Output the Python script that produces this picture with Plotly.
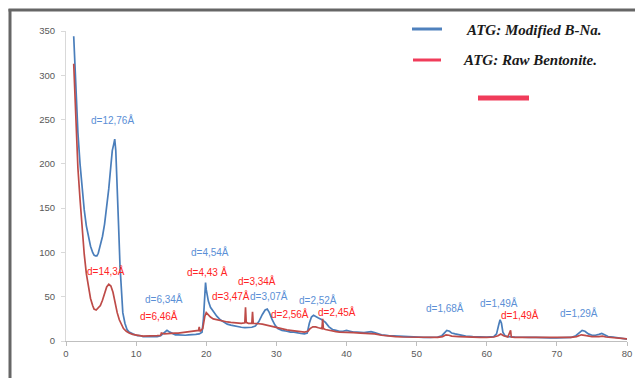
import plotly.graph_objects as go

# ---- data (2-theta, intensity) ----
blue_x = [1.1,1.3,1.5,1.7,2.0,2.3,2.6,2.9,3.2,3.5,3.8,4.0,4.2,4.4,4.6,4.9,5.2,5.5,5.8,6.1,6.4,6.6,6.8,6.95,7.1,7.3,7.5,7.7,7.9,8.1,8.4,8.7,9.0,9.4,9.8,10.2,10.6,11.0,11.5,12.0,12.5,13.0,13.5,14.0,14.4,14.8,15.2,15.6,16.0,16.5,17.0,17.5,18.0,18.5,19.0,19.4,19.6,19.8,19.9,20.0,20.3,20.6,21.0,21.5,22.0,22.5,23.0,23.5,24.0,24.5,25.0,25.5,26.0,26.5,27.0,27.5,28.0,28.4,28.7,29.0,29.4,29.8,30.2,30.8,31.5,32.0,32.5,33.0,33.5,34.0,34.4,34.7,35.0,35.3,35.6,36.0,36.5,37.0,37.5,38.0,38.5,39.0,39.5,40.0,40.5,41.0,41.5,42.0,42.5,43.0,43.5,44.0,44.5,45.0,46.0,47.0,48.0,49.0,50.0,51.0,52.0,53.0,53.6,54.0,54.3,54.7,55.0,55.5,56.0,56.5,57.0,58.0,59.0,60.0,61.0,61.4,61.7,61.9,62.1,62.3,62.6,63.0,64.0,65.0,66.0,67.0,68.0,69.0,70.0,71.0,72.0,72.7,73.2,73.6,74.0,74.5,75.0,75.5,76.0,76.4,76.8,77.3,78.0,79.0,80.0]
blue_y = [344,300,262,235,200,170,148,130,117,107,100,97,96,96,99,107,118,132,150,172,198,215,222,228,215,180,130,85,52,32,20,13,10,8,7,6,6,5,5,4.5,5,5,6,10,12,10,8,7,7,6.5,6.5,7,7,7.5,8,10,25,55,66,58,45,38,33,28,24,21,19,18,17,16,15.5,15,15,15.5,17,22,30,35,36,32,24,18,14,12,11,10,10,9,8.5,8,9,20,27,29,28,26,24,21,16,13,12,11,11,12,11,10,10,9.5,9.5,10,10.5,9.5,8,7,6,5.5,5,4.5,4.5,4,4,4.5,6,10,12,11,9,8,7,6,5.5,5,4.5,4.5,5,8,18,24,20,10,6,5,4.5,4,4,4,3.5,3.5,3.5,3.5,4,6,10,12,11,8,6.5,6.5,7.5,8.5,7,5,4.5,3,2]

red_x = [1.1,1.3,1.5,1.7,2.0,2.3,2.6,2.9,3.2,3.5,3.8,4.0,4.3,4.6,4.9,5.2,5.5,5.8,6.1,6.4,6.7,7.0,7.3,7.6,7.9,8.2,8.6,9.0,9.5,10.0,10.5,11.0,11.5,12.0,12.5,13.0,13.5,13.6,14.0,14.5,15.0,15.5,16.0,16.5,17.0,17.5,18.0,18.5,18.9,19.0,19.1,19.5,19.8,20.0,20.3,20.6,21.0,21.5,22.0,22.5,23.0,23.5,24.0,24.5,25.0,25.5,25.6,25.7,26.0,26.5,26.6,26.7,27.0,27.5,28.0,28.5,29.0,29.5,30.0,30.5,31.0,31.5,32.0,32.5,33.0,33.5,34.0,34.5,34.8,35.2,35.6,36.0,36.5,36.6,36.7,37.0,37.5,38.0,38.5,39.0,40.0,41.0,42.0,43.0,44.0,45.0,46.0,47.0,48.0,49.0,50.0,51.0,52.0,53.0,53.7,54.2,54.6,55.0,56.0,57.0,58.0,59.0,60.0,61.0,61.6,62.0,62.4,63.0,63.4,63.5,64.0,65.0,66.0,67.0,68.0,69.0,70.0,71.0,72.0,72.8,73.5,74.2,75.0,76.0,76.5,77.0,78.0,79.0,80.0]
red_y = [313,270,228,195,160,125,98,76,60,48,40,36,35,37,40,46,54,61,64,62,55,43,32,24,18,14,11,9,7.5,6.5,6,5.5,5.5,5.5,6,6,6.5,9,8,8.5,8.5,9,9,9.5,10,10,10.5,11,12,16,11,14,28,32,29,27,25,24,23,22,21.5,21,20.5,20,20,20.5,38,21,20,20,33,20,20,19.5,19,18,17,16,15,14,13,12.5,12,11.5,11,10.5,10,11,14,16,16,15,14,25,14,13,12,11,10.5,10,10,9.5,9,8.5,8,6.5,5.5,5,4.5,4.5,4,4,4,4,5,7,6.5,5.5,5,4.5,4.5,4,4,4.5,6,8,6,4.5,12,4.5,4,4,4,4,3.5,3.5,3.5,3.5,4,5,7,6,5,5,5.5,4.5,4,3,2.5]

x_ticks = [0, 10, 20, 30, 40, 50, 60, 70, 80]
y_ticks = [0, 50, 100, 150, 200, 250, 300, 350]

legend_names = ["ATG: Modified B-Na.", "ATG: Raw Bentonite."]

blue_labels = [("d=12,76Å", 6.6, 249), ("d=6,34Å", 13.95, 47.4), ("d=4,54Å", 20.5, 100.8),
               ("d=3,07Å", 29.0, 50.8), ("d=2,52Å", 35.9, 46.3), ("d=1,68Å", 54.1, 37.6),
               ("d=1,49Å", 61.8, 42.5), ("d=1,29Å", 73.1, 31.3)]
red_labels = [("d=14,3Å", 5.7, 79), ("d=6,46Å", 13.2, 28), ("d=4,43 Å", 20.2, 78),
              ("d=3,47Å", 23.5, 50.8), ("d=3,34Å", 27.2, 67.7), ("d=2,56Å", 31.9, 30.5),
              ("d=2,45Å", 38.7, 33), ("d=1,49Å", 64.7, 29.3)]

BLUE = "#4a7ebb"
RED = "#be4b48"
BLUE_TXT = "#5b8fd6"
RED_TXT = "#ff2424"

# pixel -> paper helpers (plot area: x 66..626, y 31..341)
L, R, T, B = 66, 627, 31, 341
def px(p):
    return (p - L) / (R - L)
def py(p):
    return (B - p) / (B - T)

fig = go.Figure()
fig.add_trace(go.Scatter(x=blue_x, y=blue_y, mode="lines", name=legend_names[0],
                         line=dict(color=BLUE, width=1.7), showlegend=False))
fig.add_trace(go.Scatter(x=red_x, y=red_y, mode="lines", name=legend_names[1],
                         line=dict(color=RED, width=1.7), showlegend=False))

annotations = []
for txt, x, y in blue_labels:
    annotations.append(dict(x=x, y=y, xref="x", yref="y", text=txt, showarrow=False,
                            font=dict(family="Liberation Sans, Arial", size=10, color=BLUE_TXT)))
for txt, x, y in red_labels:
    annotations.append(dict(x=x, y=y, xref="x", yref="y", text=txt, showarrow=False,
                            font=dict(family="Liberation Sans, Arial", size=10, color=RED_TXT)))

# legend texts
annotations.append(dict(x=px(464), y=py(30), xref="paper", yref="paper", xanchor="left", yanchor="middle",
                        text="<b><i>" + legend_names[0] + "</i></b>", showarrow=False,
                        font=dict(family="Liberation Serif, Times New Roman", size=15, color="#1a1a1a")))
annotations.append(dict(x=px(461), y=py(60), xref="paper", yref="paper", xanchor="left", yanchor="middle",
                        text="<b><i>" + legend_names[1] + "</i></b>", showarrow=False,
                        font=dict(family="Liberation Serif, Times New Roman", size=15, color="#1a1a1a")))

shapes = [
    # legend markers
    dict(type="line", xref="paper", yref="paper", x0=px(412), x1=px(442), y0=py(29), y1=py(29),
         line=dict(color="#4f81bd", width=3)),
    dict(type="line", xref="paper", yref="paper", x0=px(413), x1=px(441), y0=py(60), y1=py(60),
         line=dict(color="#f03c5a", width=3)),
    dict(type="line", xref="paper", yref="paper", x0=px(478), x1=px(529), y0=py(98), y1=py(98),
         line=dict(color="#f03c5a", width=5)),
    # outer frame (left and top)
    dict(type="line", xref="paper", yref="paper", x0=px(10), x1=px(10), y0=py(9), y1=py(400),
         line=dict(color="#666666", width=3)),
    dict(type="line", xref="paper", yref="paper", x0=px(8.5), x1=px(660), y0=py(10), y1=py(10),
         line=dict(color="#666666", width=3)),
]

fig.update_layout(
    width=635, height=378,
    margin=dict(l=L, r=635 - R, t=T, b=378 - B, autoexpand=False),
    paper_bgcolor="white", plot_bgcolor="white",
    annotations=annotations, shapes=shapes,
    xaxis=dict(range=[0, 80], tickvals=x_ticks, ticktext=[str(v) for v in x_ticks],
               showgrid=False, zeroline=False, showline=True, linecolor="#bfbfbf", linewidth=1,
               ticks="outside", ticklen=4, tickcolor="#bfbfbf", automargin=False,
               tickfont=dict(family="Liberation Sans, Arial", size=9.5, color="#595959")),
    yaxis=dict(range=[0, 350], tickvals=y_ticks, ticktext=[str(v) for v in y_ticks],
               showgrid=False, zeroline=False, showline=True, linecolor="#d9d9d9", linewidth=1,
               ticks="outside", ticklen=4, tickcolor="#d9d9d9", ticklabelstandoff=4, automargin=False,
               tickfont=dict(family="Liberation Sans, Arial", size=9.5, color="#595959")),
)

fig.write_html("out.html")
